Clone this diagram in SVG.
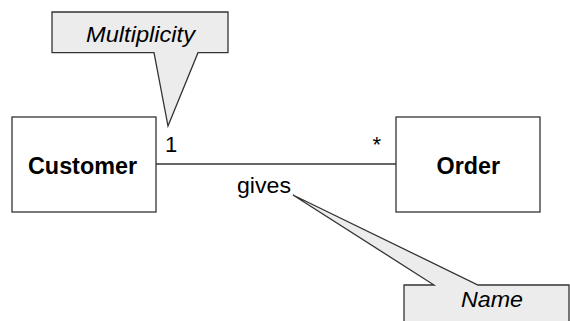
<svg xmlns="http://www.w3.org/2000/svg" width="570" height="321" viewBox="0 0 570 321">
  <style>
    .box { fill: #ffffff; stroke: #333333; stroke-width: 1.3; }
    .note { fill: #ececec; stroke: #333333; stroke-width: 1.3; stroke-linejoin: miter; }
    .line { fill: none; stroke: #333333; stroke-width: 1.3; }
    .title { font-family: "Liberation Sans", Arial, sans-serif; font-weight: bold; font-size: 23px; fill: #000; }
    .lbl { font-family: "Liberation Sans", Arial, sans-serif; font-size: 22px; fill: #000; }
    .it { font-family: "Liberation Sans", Arial, sans-serif; font-style: italic; font-size: 22px; fill: #000; }
  </style>
  <rect width="570" height="321" fill="#ffffff"/>

  <!-- association line -->
  <g id="connectors">
    <line class="line" x1="156" y1="164" x2="396" y2="164"/>
    <text class="lbl" x="165" y="152">1</text>
    <text class="lbl" x="372.5" y="152">*</text>
    <text class="lbl" x="237" y="193" textLength="54" lengthAdjust="spacingAndGlyphs">gives</text>
  </g>

  <g id="customer">
    <rect class="box" x="12" y="117" width="144" height="95"/>
    <text class="title" x="28" y="174" textLength="109" lengthAdjust="spacingAndGlyphs">Customer</text>
  </g>

  <g id="order">
    <rect class="box" x="396" y="117" width="144" height="95"/>
    <text class="title" x="436.5" y="174" textLength="63.5" lengthAdjust="spacingAndGlyphs">Order</text>
  </g>

  <!-- note pointing at the multiplicity -->
  <g id="note-multiplicity">
    <path class="note" d="M52,12 H228 V52.7 H198 L168,126 L154,52.7 H52 Z"/>
    <text class="it" x="86" y="41.5" textLength="109" lengthAdjust="spacingAndGlyphs">Multiplicity</text>
  </g>

  <!-- note pointing at the association name -->
  <g id="note-name">
    <path class="note" d="M404,340 V285 H434 L293,195 L478,285 H569 V340 Z"/>
    <text class="it" x="461" y="306.5" textLength="62" lengthAdjust="spacingAndGlyphs">Name</text>
  </g>
</svg>
